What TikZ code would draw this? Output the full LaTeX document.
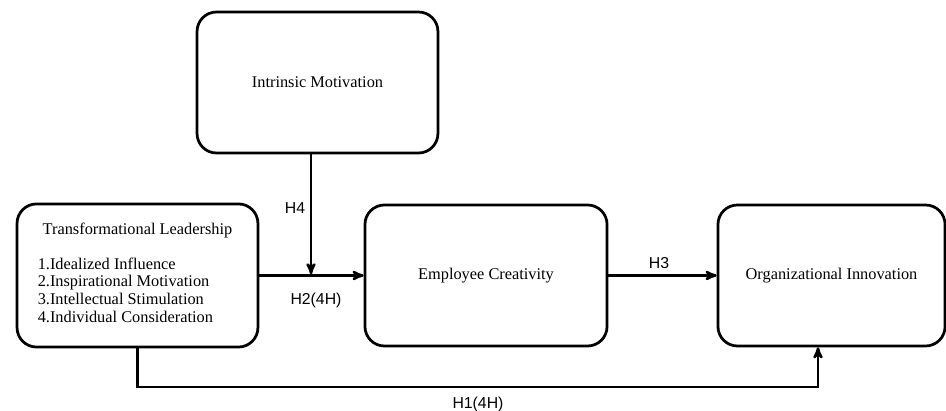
\documentclass[tikz,border=0pt]{standalone}
\usepackage{fontspec}
\setmainfont{Liberation Serif}
\newfontfamily\hlabelfont{Liberation Sans}
\usetikzlibrary{arrows}
\usetikzlibrary{positioning}

\begin{document}
\begin{tikzpicture}[->,>=stealth',shorten >=0pt,auto,
    main node/.style={rectangle,rounded corners=0.65cm,draw,line width=2.6pt,minimum height=4.7cm,font=\fontsize{15.5}{17}\selectfont},
    hyp node/.style={font=\hlabelfont\fontsize{15}{17}\selectfont,inner sep=0pt}]
   \useasboundingbox (0,0) rectangle (31.533,-13.667);
   \begin{scope}
      \node[main node,minimum width=8.03cm] (im) at (10.583,-2.75) {Intrinsic Motivation};
      \node[main node,minimum width=8.03cm,minimum height=4.77cm,align=center] (tl) at (4.583,-9.183)
         {Transformational Leadership\\[16pt]
          \begin{tabular}[t]{@{}l@{\hspace{23pt}}}
          1.Idealized Influence\\
          2.Inspirational Motivation\\
          3.Intellectual Stimulation\\
          4.Individual Consideration
          \end{tabular}};
      \node[main node,minimum width=8.07cm] (ec) at (16.2,-9.183) {Employee Creativity};
      \node[main node,minimum width=7.57cm] (oi) at (27.717,-9.183) {Organizational Innovation};
      \coordinate (m) at (10.367,-9.183);
      \coordinate (h1) at (27.267,-12.9);
      \node[hyp node] (h4) at (9.833,-6.933) {H4};
      \node[hyp node] (h2) at (10.533,-10.0) {H2(4H)};
      \node[hyp node] (h3) at (21.967,-8.767) {H3};
      \node[hyp node] (h1l) at (15.933,-13.467) {H1(4H)};
       \path[line width=2.4pt] (tl) edge (ec);
       \path[line width=2.4pt,shorten >=1.2pt] (im.south -| m) edge (m);
       \path[line width=2.4pt] (ec) edge (oi);
       \draw[line width=2.4pt] (tl.south) |- (h1) -- (h1 |- oi.south);
    \end{scope}
  \end{tikzpicture}
\end{document}
